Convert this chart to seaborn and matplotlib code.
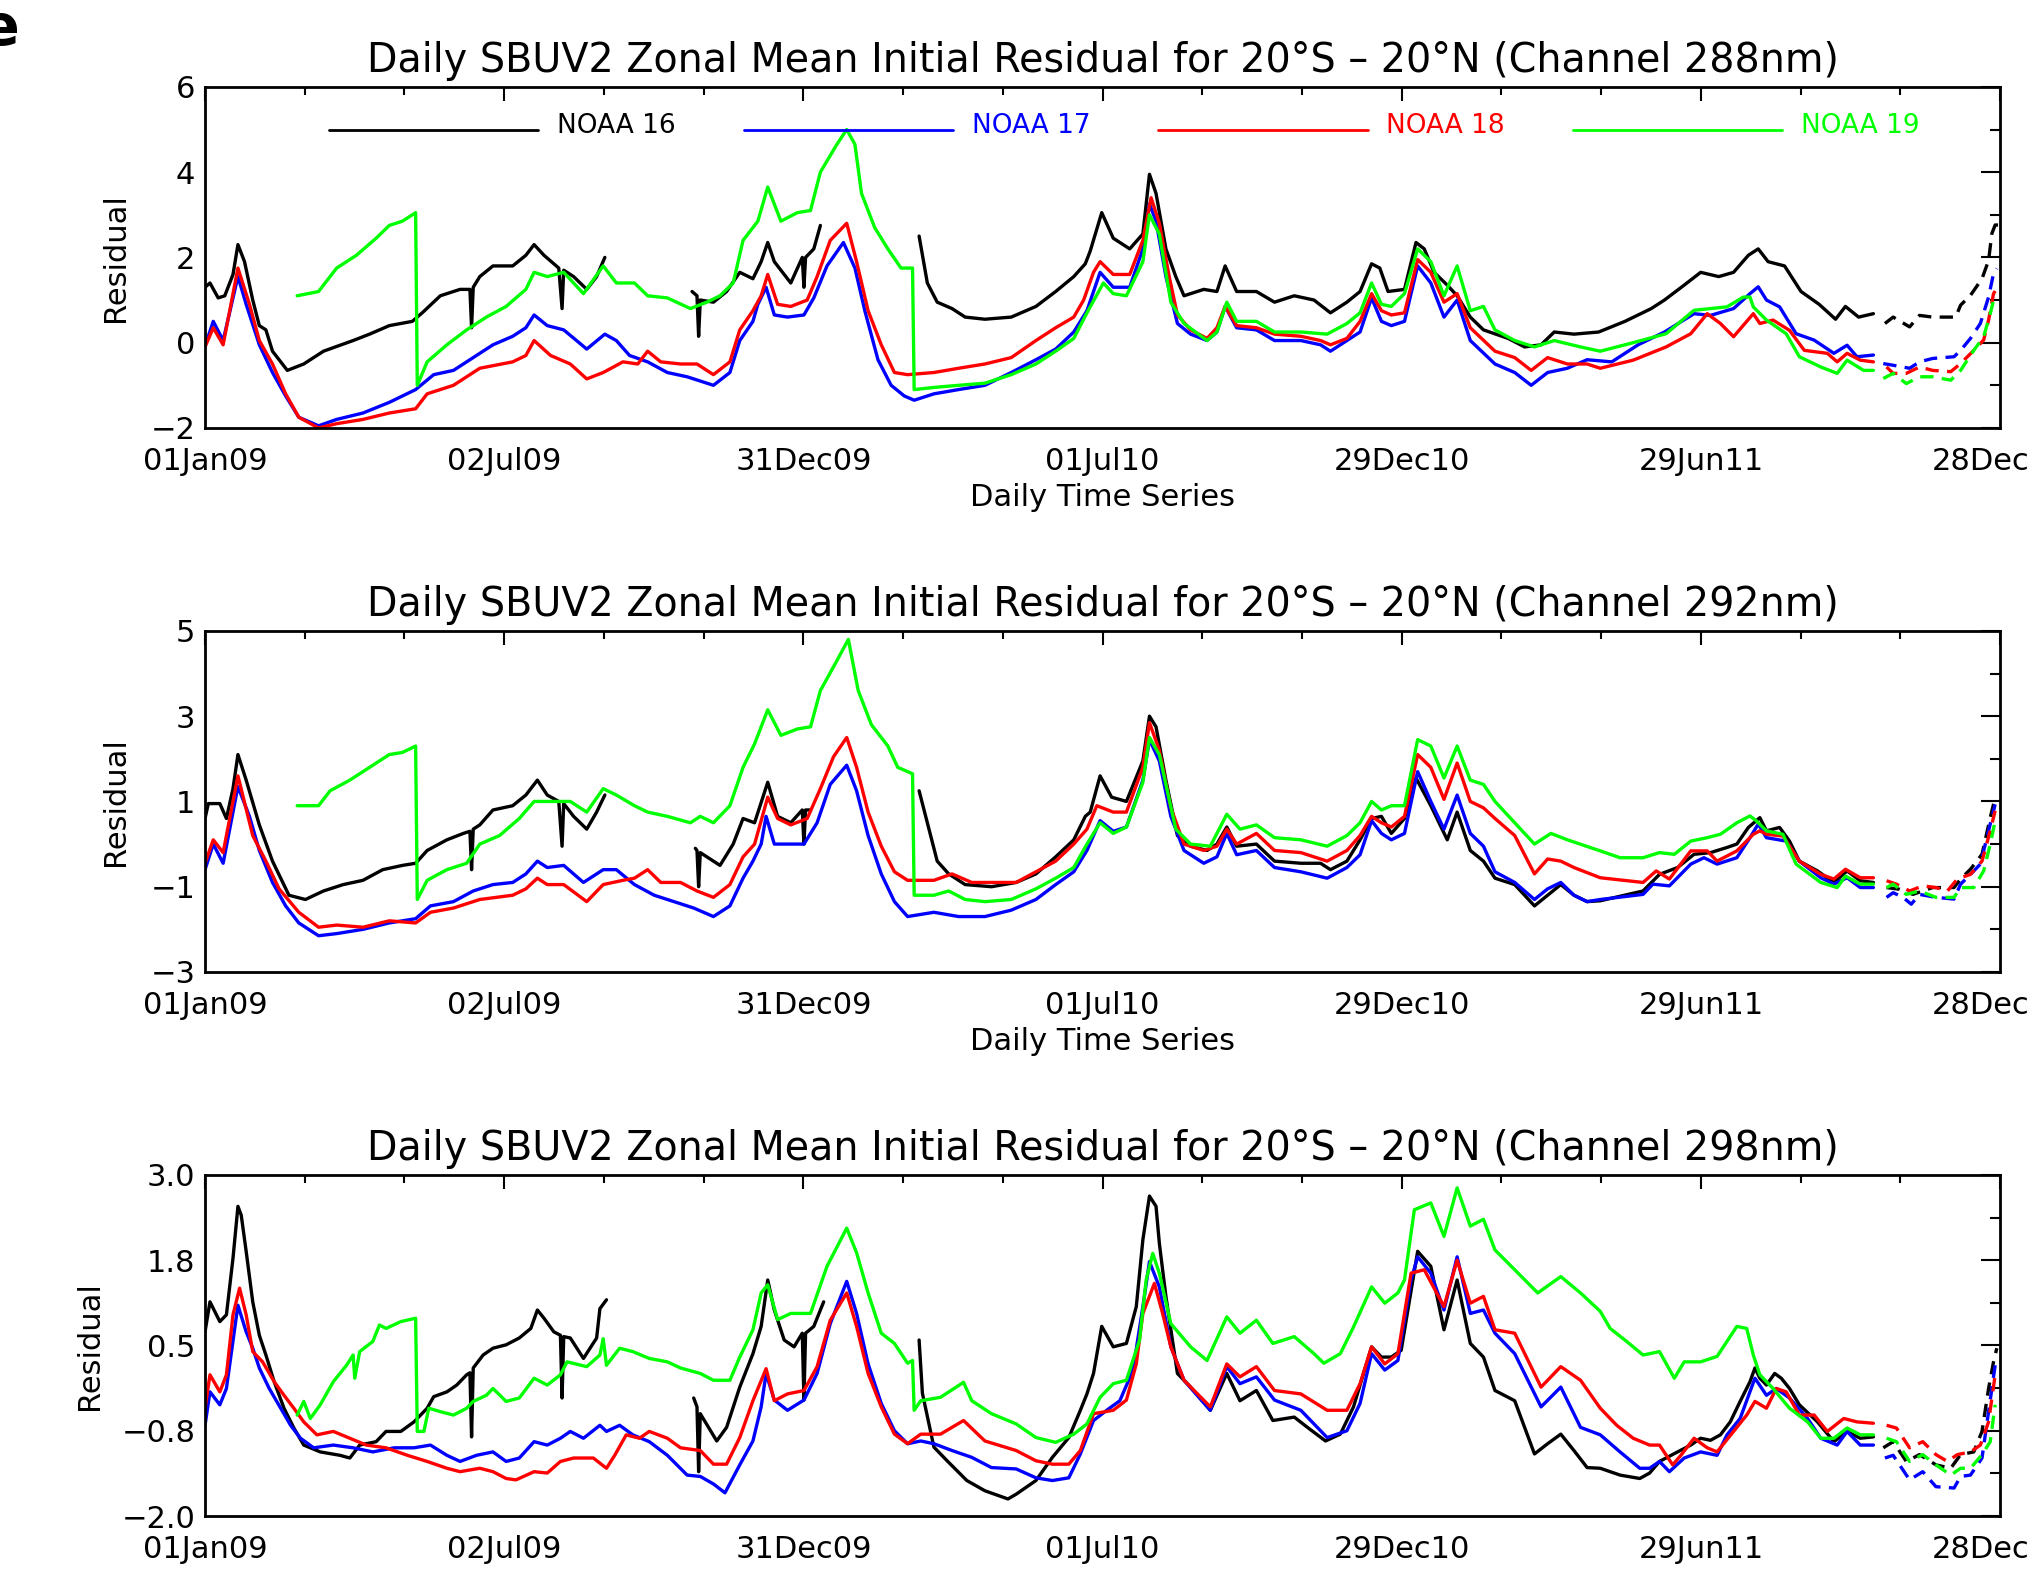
import numpy as np
import matplotlib
matplotlib.use('Agg')
import matplotlib.pyplot as plt
import seaborn as sns

nan = np.nan

# ---- axis / legend text ----
X_TICK_LABELS = ['01Jan09', '02Jul09', '31Dec09', '01Jul10', '29Dec10', '29Jun11', '28Dec11']
N_DAYS = 1091          # 01Jan09 .. 28Dec11
DASH_FROM = 1017       # last weeks of the record are drawn dashed
SATELLITES = ['NOAA 16', 'NOAA 17', 'NOAA 18', 'NOAA 19']
COLORS = ['#000000', '#0000ff', '#ff0000', '#00ff00']
CHANNELS = ['288nm', '292nm', '298nm']

# ---- data: (day since 01Jan09, residual), nan = gap ----
P288_NOAA16 = [(0, 1.3), (3, 1.4), (8, 1.05), (12, 1.1), (17, 1.6), (20, 2.3), (24, 1.9), (29, 1.0), (33, 0.4), (37, 0.3),
               (41, -0.2), (50, -0.65), (60, -0.5), (72, -0.2), (90, 0.05), (100, 0.2), (112, 0.4), (126, 0.5), (132, 0.7),
               (143, 1.1), (155, 1.25), (161, 1.25), (162, 0.35), (163, 1.3), (167, 1.55), (175, 1.8), (187, 1.8), (195, 2.05),
               (200, 2.3), (206, 2.05), (215, 1.75), (217, 0.8), (218, 1.7), (224, 1.55), (232, 1.25), (238, 1.55), (243, 2.0),
               (270, nan), (296, 1.2), (299, 1.1), (300, 0.15), (301, 1.0), (309, 0.95), (317, 1.2), (325, 1.65), (333, 1.5),
               (338, 1.9), (342, 2.35), (346, 1.9), (356, 1.4), (363, 2.0), (364, 1.3), (365, 2.0), (370, 2.2), (374, 2.75),
               (400, nan), (434, 2.5), (439, 1.4), (445, 0.95), (454, 0.8), (462, 0.6), (474, 0.55), (490, 0.6), (505, 0.85),
               (517, 1.2), (528, 1.55), (535, 1.85), (538, 2.15), (545, 3.05), (552, 2.45), (562, 2.2), (570, 2.55), (574, 3.95),
               (578, 3.5), (584, 2.2), (590, 1.55), (595, 1.1), (607, 1.25), (615, 1.2), (620, 1.8), (627, 1.2), (639, 1.2),
               (650, 0.95), (662, 1.1), (674, 1.0), (684, 0.7), (694, 0.95), (702, 1.2), (709, 1.85), (714, 1.75), (719, 1.2),
               (729, 1.25), (736, 2.35), (741, 2.2), (747, 1.65), (755, 1.35), (761, 1.1), (769, 0.6), (777, 0.3), (792, 0.1),
               (802, -0.1), (812, -0.05), (820, 0.25), (832, 0.2), (847, 0.25), (863, 0.5), (879, 0.8), (887, 1.0), (899, 1.35),
               (909, 1.65), (920, 1.55), (929, 1.65), (938, 2.05), (944, 2.2), (950, 1.9), (960, 1.8), (970, 1.2), (981, 0.9),
               (991, 0.55), (997, 0.85), (1005, 0.6), (1014, 0.68), (1017, nan), (1021, 0.45), (1026, 0.6), (1036, 0.37),
               (1042, 0.64), (1050, 0.6), (1064, 0.6), (1067, 0.88), (1073, 1.11), (1080, 1.5), (1084, 1.93), (1086, 2.56),
               (1088, 2.76), (1090, 2.76)]
P288_NOAA17 = [(0, -0.08), (5, 0.5), (11, 0.05), (20, 1.55), (25, 0.9), (33, -0.05), (41, -0.7), (49, -1.25), (57, -1.75),
               (69, -1.95), (80, -1.8), (96, -1.65), (112, -1.4), (128, -1.1), (139, -0.75), (151, -0.65), (163, -0.35),
               (175, -0.05), (187, 0.15), (195, 0.35), (200, 0.65), (208, 0.4), (218, 0.3), (232, -0.15), (243, 0.2), (250, 0.05),
               (258, -0.3), (269, -0.45), (281, -0.7), (293, -0.8), (301, -0.9), (309, -1.0), (319, -0.7), (325, 0.05), (333, 0.5),
               (336, 0.9), (341, 1.3), (346, 0.65), (354, 0.6), (364, 0.65), (370, 1.05), (378, 1.8), (388, 2.35), (395, 1.75),
               (401, 0.75), (409, -0.4), (417, -1.0), (425, -1.25), (431, -1.35), (443, -1.2), (458, -1.1), (474, -1.0),
               (490, -0.7), (505, -0.4), (517, -0.15), (528, 0.25), (536, 0.75), (544, 1.65), (552, 1.3), (562, 1.3), (570, 2.2),
               (574, 3.25), (578, 2.85), (584, 1.55), (591, 0.45), (599, 0.2), (609, 0.05), (615, 0.25), (620, 0.85), (627, 0.35),
               (639, 0.3), (650, 0.05), (666, 0.05), (678, -0.05), (684, -0.2), (694, 0.05), (702, 0.25), (709, 1.05), (715, 0.5),
               (721, 0.4), (729, 0.5), (737, 1.8), (745, 1.4), (753, 0.6), (761, 1.0), (769, 0.05), (784, -0.5), (796, -0.7),
               (806, -1.0), (816, -0.7), (828, -0.6), (840, -0.4), (855, -0.45), (871, -0.05), (887, 0.25), (905, 0.68),
               (915, 0.64), (929, 0.8), (939, 1.15), (944, 1.31), (949, 1.0), (957, 0.84), (967, 0.21), (978, 0.06), (990, -0.25),
               (998, -0.06), (1004, -0.33), (1014, -0.29), (1017, nan), (1020, -0.49), (1026, -0.53), (1036, -0.6), (1042, -0.45),
               (1050, -0.37), (1063, -0.33), (1067, -0.18), (1073, 0.1), (1079, 0.45), (1084, 1.07), (1087, 1.62), (1089, 1.74)]
P288_NOAA18 = [(0, -0.1), (5, 0.35), (11, -0.05), (20, 1.75), (27, 0.9), (33, 0.05), (41, -0.5), (49, -1.2), (57, -1.75),
               (69, -2.0), (80, -1.9), (96, -1.8), (112, -1.65), (128, -1.55), (135, -1.2), (151, -1.0), (167, -0.6), (187, -0.45),
               (195, -0.3), (200, 0.05), (210, -0.3), (222, -0.5), (232, -0.85), (242, -0.7), (254, -0.45), (263, -0.5), (269, -0.2),
               (277, -0.45), (289, -0.5), (299, -0.5), (309, -0.75), (319, -0.45), (325, 0.3), (333, 0.75), (338, 1.1), (342, 1.6),
               (348, 0.9), (356, 0.85), (366, 1.0), (372, 1.55), (380, 2.4), (390, 2.8), (396, 1.9), (403, 0.75), (411, -0.05),
               (419, -0.7), (427, -0.75), (443, -0.7), (458, -0.6), (474, -0.5), (490, -0.35), (505, 0.05), (517, 0.35),
               (528, 0.6), (534, 1.0), (540, 1.65), (544, 1.9), (552, 1.6), (562, 1.6), (570, 2.4), (575, 3.4), (580, 2.8),
               (586, 1.55), (591, 0.65), (599, 0.3), (609, 0.1), (615, 0.35), (620, 0.85), (627, 0.4), (639, 0.35), (650, 0.2),
               (666, 0.15), (678, 0.05), (684, -0.05), (694, 0.1), (702, 0.5), (709, 1.15), (715, 0.75), (721, 0.65), (729, 0.7),
               (737, 1.95), (745, 1.65), (753, 0.95), (761, 1.15), (769, 0.35), (784, -0.2), (796, -0.35), (806, -0.65),
               (816, -0.35), (828, -0.5), (840, -0.5), (848, -0.6), (868, -0.41), (888, -0.1), (903, 0.21), (913, 0.68),
               (921, 0.45), (929, 0.14), (941, 0.68), (945, 0.45), (953, 0.53), (963, 0.29), (972, -0.18), (986, -0.25),
               (992, -0.45), (998, -0.25), (1006, -0.41), (1014, -0.45), (1017, nan), (1022, -0.57), (1026, -0.72), (1034, -0.72),
               (1042, -0.57), (1050, -0.65), (1061, -0.68), (1067, -0.49), (1075, -0.18), (1081, 0.06), (1084, 0.53),
               (1087, 1.15), (1089, 1.27)]
P288_NOAA19 = [(56, 1.1), (69, 1.2), (80, 1.75), (92, 2.05), (104, 2.45), (112, 2.75), (120, 2.85), (128, 3.05), (129, -1.0),
               (135, -0.45), (147, -0.05), (159, 0.3), (171, 0.6), (183, 0.85), (195, 1.25), (200, 1.65), (208, 1.55), (218, 1.65),
               (230, 1.15), (242, 1.8), (250, 1.4), (261, 1.4), (269, 1.1), (281, 1.05), (295, 0.8), (305, 0.95), (313, 1.1),
               (321, 1.4), (327, 2.4), (336, 2.85), (342, 3.65), (350, 2.85), (360, 3.05), (368, 3.1), (374, 4.0), (384, 4.65),
               (390, 5.0), (395, 4.65), (399, 3.5), (407, 2.7), (415, 2.2), (423, 1.75), (430, 1.75), (431, -1.1), (443, -1.05),
               (458, -1.0), (474, -0.95), (490, -0.75), (505, -0.5), (517, -0.2), (528, 0.1), (536, 0.7), (546, 1.4), (552, 1.15),
               (560, 1.1), (570, 1.9), (574, 3.0), (580, 2.55), (587, 0.95), (595, 0.45), (609, 0.05), (615, 0.25), (621, 0.95),
               (627, 0.5), (639, 0.5), (650, 0.25), (666, 0.25), (682, 0.2), (694, 0.45), (702, 0.7), (709, 1.4), (715, 0.9),
               (721, 0.85), (729, 1.15), (737, 2.2), (745, 1.9), (753, 1.1), (761, 1.8), (769, 0.75), (777, 0.85), (784, 0.3),
               (796, 0.05), (808, -0.1), (820, 0.05), (836, -0.1), (848, -0.2), (868, 0.0), (888, 0.21), (905, 0.76), (915, 0.8),
               (925, 0.84), (935, 1.07), (939, 1.07), (941, 0.84), (949, 0.53), (961, 0.21), (969, -0.33), (982, -0.57),
               (992, -0.72), (998, -0.41), (1008, -0.65), (1014, -0.65), (1017, nan), (1020, -0.84), (1026, -0.72), (1034, -0.96),
               (1042, -0.8), (1050, -0.8), (1061, -0.88), (1067, -0.65), (1075, -0.18), (1081, 0.14), (1085, 0.68), (1088, 1.15)]

P292_NOAA16 = [(0, 0.6), (2, 0.95), (9, 0.95), (13, 0.6), (17, 1.3), (20, 2.1), (25, 1.5), (33, 0.45), (41, -0.4), (51, -1.2),
               (61, -1.3), (72, -1.1), (84, -0.95), (96, -0.85), (108, -0.6), (120, -0.5), (128, -0.45), (135, -0.15), (147, 0.1),
               (157, 0.25), (161, 0.3), (162, -0.6), (163, 0.35), (167, 0.45), (175, 0.8), (187, 0.9), (195, 1.15), (202, 1.5),
               (208, 1.15), (215, 1.0), (217, -0.05), (218, 0.95), (224, 0.65), (232, 0.35), (238, 0.75), (243, 1.15), (270, nan),
               (298, -0.1), (299, -0.15), (300, -1.0), (301, -0.2), (305, -0.3), (313, -0.5), (321, 0.0), (327, 0.6), (334, 0.5),
               (342, 1.45), (348, 0.65), (356, 0.5), (363, 0.8), (364, 0.0), (365, 0.8), (368, 0.8), (400, nan), (434, 1.25),
               (439, 0.5), (445, -0.4), (452, -0.7), (462, -0.95), (478, -1.0), (493, -0.9), (505, -0.7), (517, -0.3), (528, 0.1),
               (535, 0.65), (538, 0.75), (544, 1.6), (551, 1.1), (560, 1.0), (570, 1.95), (574, 3.0), (578, 2.75), (584, 1.5),
               (591, 0.2), (599, -0.05), (609, -0.15), (615, 0.0), (621, 0.4), (627, -0.05), (639, 0.0), (650, -0.4), (666, -0.45),
               (678, -0.45), (684, -0.6), (694, -0.4), (702, 0.1), (709, 0.6), (715, 0.65), (721, 0.25), (729, 0.6), (736, 1.55),
               (745, 0.9), (755, 0.1), (761, 0.75), (769, -0.15), (777, -0.4), (784, -0.8), (796, -0.95), (808, -1.45),
               (816, -1.2), (824, -0.95), (832, -1.2), (840, -1.35), (848, -1.33), (874, -1.1), (884, -0.71), (895, -0.55),
               (905, -0.24), (915, -0.2), (925, -0.08), (931, 0.0), (938, 0.39), (945, 0.62), (949, 0.31), (957, 0.39), (963, 0.07),
               (969, -0.4), (980, -0.63), (990, -0.9), (998, -0.63), (1006, -0.86), (1014, -0.9), (1017, nan), (1022, -1.02),
               (1030, -1.06), (1038, -1.18), (1050, -1.02), (1063, -1.02), (1067, -0.82), (1073, -0.59), (1080, -0.24),
               (1085, 0.62), (1088, 1.09)]
P292_NOAA17 = [(0, -0.6), (5, 0.0), (11, -0.45), (20, 1.35), (27, 0.65), (33, -0.15), (41, -0.9), (49, -1.45), (57, -1.85),
               (69, -2.15), (80, -2.1), (96, -2.0), (112, -1.85), (128, -1.75), (137, -1.45), (151, -1.35), (163, -1.1),
               (175, -0.95), (187, -0.9), (195, -0.7), (202, -0.4), (208, -0.55), (218, -0.5), (230, -0.9), (242, -0.6),
               (250, -0.6), (261, -0.95), (273, -1.2), (285, -1.35), (297, -1.5), (309, -1.7), (319, -1.45), (327, -0.8),
               (333, -0.4), (338, 0.0), (341, 0.65), (346, 0.0), (354, 0.0), (364, 0.0), (372, 0.5), (380, 1.4), (390, 1.85),
               (396, 1.25), (403, 0.2), (411, -0.7), (419, -1.35), (427, -1.7), (443, -1.6), (458, -1.7), (474, -1.7),
               (490, -1.55), (505, -1.3), (517, -0.95), (528, -0.65), (536, -0.15), (544, 0.55), (552, 0.3), (560, 0.4),
               (570, 1.5), (574, 2.45), (580, 1.95), (587, 0.65), (595, -0.15), (607, -0.45), (615, -0.3), (621, 0.25),
               (627, -0.25), (639, -0.15), (650, -0.55), (666, -0.65), (682, -0.8), (694, -0.55), (702, -0.25), (709, 0.55),
               (715, 0.25), (721, 0.1), (729, 0.25), (737, 1.7), (745, 1.0), (753, 0.35), (761, 1.15), (769, 0.25), (777, -0.05),
               (784, -0.65), (796, -0.9), (808, -1.3), (816, -1.05), (824, -0.9), (832, -1.2), (840, -1.35), (848, -1.3),
               (874, -1.18), (880, -0.94), (890, -0.98), (903, -0.47), (911, -0.32), (919, -0.47), (931, -0.32), (939, 0.15),
               (944, 0.47), (949, 0.15), (961, 0.07), (969, -0.4), (982, -0.79), (990, -0.94), (998, -0.79), (1006, -1.02),
               (1014, -1.02), (1017, nan), (1022, -1.25), (1026, -1.14), (1032, -1.25), (1037, -1.41), (1042, -1.18),
               (1052, -1.25), (1063, -1.29), (1067, -0.94), (1073, -0.71), (1079, -0.47), (1085, 0.47), (1088, 0.93)]
P292_NOAA18 = [(0, -0.45), (5, 0.1), (11, -0.2), (20, 1.6), (29, 0.2), (37, -0.4), (45, -1.05), (57, -1.6), (69, -1.95),
               (80, -1.9), (96, -1.95), (112, -1.8), (128, -1.85), (137, -1.6), (151, -1.5), (167, -1.3), (187, -1.2),
               (195, -1.05), (202, -0.8), (208, -0.95), (218, -0.95), (232, -1.35), (242, -0.95), (254, -0.85), (261, -0.8),
               (269, -0.6), (277, -0.9), (289, -0.9), (299, -1.1), (309, -1.25), (319, -0.95), (327, -0.3), (334, 0.0), (342, 1.1),
               (348, 0.6), (356, 0.45), (366, 0.6), (374, 1.3), (382, 2.05), (390, 2.5), (396, 1.8), (403, 0.75), (411, -0.05),
               (419, -0.65), (427, -0.85), (443, -0.85), (454, -0.7), (466, -0.9), (478, -0.9), (493, -0.9), (505, -0.65),
               (517, -0.4), (528, 0.0), (536, 0.35), (542, 0.9), (552, 0.75), (560, 0.75), (570, 1.8), (574, 2.85), (580, 2.2),
               (587, 0.85), (595, 0.0), (607, -0.15), (615, -0.05), (621, 0.35), (627, 0.0), (639, 0.25), (650, -0.15),
               (666, -0.2), (682, -0.4), (694, -0.15), (702, 0.2), (709, 0.65), (715, 0.5), (721, 0.4), (729, 0.65), (737, 2.1),
               (745, 1.8), (753, 1.05), (761, 1.9), (769, 1.0), (777, 0.85), (784, 0.6), (796, 0.2), (808, -0.7), (816, -0.35),
               (824, -0.4), (832, -0.55), (848, -0.79), (874, -0.9), (882, -0.63), (890, -0.82), (903, -0.16), (913, -0.16),
               (919, -0.4), (931, -0.16), (941, 0.23), (945, 0.31), (949, 0.23), (959, 0.19), (969, -0.4), (982, -0.71),
               (990, -0.82), (997, -0.59), (1006, -0.79), (1014, -0.79), (1017, nan), (1022, -0.86), (1028, -0.94), (1036, -1.1),
               (1044, -0.98), (1052, -1.02), (1059, -1.1), (1065, -0.82), (1073, -0.71), (1080, -0.4), (1085, 0.31), (1088, 0.78)]
P292_NOAA19 = [(56, 0.9), (69, 0.9), (76, 1.25), (88, 1.5), (100, 1.8), (112, 2.1), (120, 2.15), (128, 2.3), (129, -1.3),
               (135, -0.85), (147, -0.6), (159, -0.45), (167, 0.0), (179, 0.2), (191, 0.6), (200, 1.0), (211, 1.0), (222, 1.0),
               (232, 0.75), (242, 1.3), (250, 1.15), (261, 0.9), (269, 0.75), (281, 0.65), (295, 0.5), (301, 0.65), (309, 0.5),
               (319, 0.9), (327, 1.8), (334, 2.35), (342, 3.15), (350, 2.55), (360, 2.7), (368, 2.75), (374, 3.6), (384, 4.3),
               (391, 4.8), (397, 3.6), (405, 2.8), (415, 2.3), (421, 1.8), (430, 1.65), (431, -1.2), (443, -1.2), (452, -1.1),
               (462, -1.3), (474, -1.35), (490, -1.3), (505, -1.05), (517, -0.8), (528, -0.55), (536, 0.0), (544, 0.5),
               (552, 0.25), (560, 0.4), (570, 1.45), (574, 2.5), (580, 2.1), (590, 0.35), (599, 0.0), (611, -0.05), (621, 0.7),
               (629, 0.35), (639, 0.45), (650, 0.15), (666, 0.1), (682, -0.05), (694, 0.2), (702, 0.5), (709, 1.0), (715, 0.8),
               (721, 0.9), (729, 0.9), (737, 2.45), (745, 2.3), (753, 1.55), (761, 2.3), (769, 1.5), (777, 1.4), (784, 1.0),
               (796, 0.5), (808, 0.0), (818, 0.25), (828, 0.1), (848, -0.16), (860, -0.32), (874, -0.32), (884, -0.2),
               (893, -0.24), (903, 0.07), (913, 0.15), (921, 0.23), (931, 0.5), (939, 0.66), (943, 0.54), (949, 0.31), (959, 0.23),
               (967, -0.47), (982, -0.9), (992, -1.02), (997, -0.75), (1006, -0.94), (1014, -0.94), (1017, nan), (1022, -1.02),
               (1026, -0.94), (1034, -1.18), (1042, -1.1), (1052, -1.25), (1063, -1.25), (1067, -1.02), (1075, -1.02),
               (1081, -0.63), (1085, 0.0), (1088, 0.54)]

P298_NOAA16 = [(0, 0.7), (3, 1.14), (9, 0.85), (13, 0.95), (17, 1.78), (20, 2.54), (22, 2.41), (25, 1.88), (29, 1.14), (33, 0.65),
               (37, 0.36), (42, -0.03), (48, -0.42), (54, -0.71), (60, -0.96), (70, -1.06), (82, -1.11), (88, -1.15), (94, -0.96),
               (104, -0.91), (110, -0.76), (119, -0.76), (127, -0.62), (135, -0.42), (139, -0.25), (147, -0.18), (153, -0.08),
               (159, 0.07), (161, 0.1), (162, -0.84), (163, 0.17), (169, 0.36), (175, 0.46), (183, 0.51), (191, 0.61), (198, 0.75),
               (202, 1.02), (206, 0.9), (212, 0.7), (216, 0.65), (217, -0.27), (218, 0.63), (222, 0.61), (230, 0.31), (234, 0.46),
               (238, 0.61), (240, 1.04), (244, 1.17), (270, nan), (297, -0.27), (299, -0.4), (300, -1.35), (301, -0.5),
               (311, -0.9), (317, -0.7), (325, -0.11), (333, 0.38), (338, 0.78), (342, 1.46), (346, 1.02), (352, 0.58),
               (358, 0.48), (363, 0.68), (364, -0.3), (365, 0.68), (370, 0.78), (376, 1.14), (400, nan), (434, 0.58), (436, -0.2),
               (443, -0.99), (451, -1.19), (463, -1.48), (474, -1.63), (488, -1.75), (493, -1.68), (505, -1.48), (515, -1.14),
               (525, -0.85), (532, -0.45), (536, -0.21), (540, 0.09), (545, 0.78), (552, 0.48), (560, 0.53), (566, 1.07),
               (570, 2.05), (574, 2.69), (578, 2.54), (580, 2.0), (584, 1.22), (591, 0.09), (599, -0.11), (611, -0.45), (621, 0.09),
               (629, -0.31), (639, -0.16), (649, -0.6), (662, -0.55), (670, -0.7), (681, -0.9), (690, -0.8), (698, -0.4),
               (709, 0.48), (715, 0.33), (721, 0.33), (727, 0.43), (737, 1.88), (745, 1.66), (753, 0.73), (761, 1.46), (769, 0.53),
               (777, 0.33), (784, -0.16), (796, -0.31), (808, -1.09), (816, -0.94), (824, -0.8), (832, -1.04), (840, -1.29),
               (848, -1.3), (860, -1.4), (872, -1.45), (878, -1.37), (884, -1.2), (895, -1.06), (903, -0.96), (909, -0.86),
               (915, -0.89), (921, -0.81), (927, -0.62), (933, -0.32), (939, -0.03), (942, 0.17), (945, 0.02), (949, -0.08),
               (954, 0.09), (958, 0.02), (963, -0.13), (969, -0.37), (980, -0.62), (990, -0.91), (998, -0.76), (1006, -0.86),
               (1014, -0.84), (1017, nan), (1020, -1.0), (1026, -0.91), (1034, -1.2), (1042, -1.1), (1052, -1.25), (1061, -1.3),
               (1067, -1.1), (1075, -1.06), (1080, -0.76), (1084, -0.13), (1087, 0.26), (1089, 0.46)]
P298_NOAA17 = [(0, -0.67), (3, -0.18), (9, -0.37), (13, -0.13), (20, 1.09), (25, 0.7), (29, 0.46), (33, 0.17), (39, -0.13),
               (46, -0.42), (52, -0.67), (58, -0.86), (66, -1.0), (78, -0.96), (90, -1.0), (102, -1.06), (115, -1.0), (127, -1.0),
               (137, -0.96), (147, -1.11), (155, -1.2), (165, -1.11), (175, -1.06), (183, -1.2), (191, -1.15), (200, -0.91),
               (208, -0.96), (216, -0.86), (222, -0.76), (230, -0.86), (240, -0.67), (244, -0.76), (252, -0.67), (260, -0.81),
               (270, -0.91), (281, -1.11), (293, -1.4), (301, -1.42), (309, -1.53), (316, -1.66), (325, -1.25), (333, -0.9),
               (338, -0.4), (341, 0.09), (346, -0.3), (354, -0.45), (364, -0.3), (372, 0.09), (380, 0.82), (390, 1.44), (396, 0.97),
               (403, 0.23), (411, -0.35), (419, -0.75), (427, -0.94), (435, -0.9), (443, -0.94), (454, -1.04), (466, -1.14),
               (478, -1.29), (493, -1.31), (505, -1.44), (515, -1.48), (525, -1.44), (532, -1.09), (540, -0.6), (548, -0.45),
               (556, -0.31), (564, 0.14), (570, 1.07), (574, 1.73), (580, 1.36), (587, 0.48), (595, -0.01), (611, -0.45),
               (621, 0.19), (629, -0.06), (639, 0.04), (650, -0.3), (666, -0.45), (682, -0.85), (694, -0.75), (702, -0.35),
               (709, 0.38), (717, 0.14), (725, 0.28), (733, 1.46), (737, 1.8), (745, 1.56), (753, 1.02), (761, 1.8), (769, 0.97),
               (777, 1.02), (784, 0.68), (796, 0.38), (812, -0.4), (824, -0.11), (836, -0.7), (848, -0.81), (860, -1.06),
               (872, -1.3), (878, -1.3), (884, -1.2), (890, -1.35), (899, -1.15), (909, -1.06), (919, -1.11), (925, -0.81),
               (933, -0.57), (942, 0.02), (949, -0.23), (955, -0.13), (963, -0.27), (974, -0.57), (982, -0.86), (992, -0.96),
               (998, -0.76), (1006, -0.96), (1014, -0.96), (1017, nan), (1021, -1.15), (1026, -1.11), (1036, -1.47), (1044, -1.35),
               (1052, -1.57), (1063, -1.59), (1067, -1.42), (1073, -1.4), (1080, -1.15), (1086, -0.13), (1088, 0.21)]
P298_NOAA18 = [(0, -0.42), (3, 0.07), (9, -0.18), (13, 0.07), (17, 0.95), (21, 1.34), (25, 0.95), (29, 0.41), (35, 0.26),
               (42, -0.03), (48, -0.23), (54, -0.42), (60, -0.62), (68, -0.81), (78, -0.76), (88, -0.86), (98, -0.96), (110, -1.0),
               (123, -1.11), (135, -1.2), (147, -1.3), (155, -1.35), (167, -1.3), (175, -1.35), (183, -1.45), (189, -1.47),
               (200, -1.35), (208, -1.37), (216, -1.2), (224, -1.15), (236, -1.15), (244, -1.3), (249, -1.11), (256, -0.81),
               (264, -0.86), (270, -0.76), (281, -0.86), (289, -1.0), (301, -1.04), (309, -1.24), (317, -1.24), (325, -0.85),
               (333, -0.31), (341, 0.16), (346, -0.31), (354, -0.21), (364, -0.16), (372, 0.19), (380, 0.87), (390, 1.27),
               (396, 0.78), (403, 0.09), (411, -0.4), (419, -0.8), (427, -0.94), (435, -0.8), (447, -0.8), (461, -0.6),
               (474, -0.9), (493, -1.04), (505, -1.19), (515, -1.24), (525, -1.24), (532, -1.04), (540, -0.5), (552, -0.45),
               (560, -0.3), (566, 0.23), (570, 0.97), (577, 1.41), (582, 0.97), (587, 0.48), (595, -0.01), (611, -0.4),
               (621, 0.23), (629, 0.04), (639, 0.19), (650, -0.16), (666, -0.21), (682, -0.45), (694, -0.45), (702, -0.06),
               (709, 0.48), (717, 0.23), (725, 0.38), (733, 1.56), (741, 1.61), (753, 1.07), (761, 1.75), (769, 1.12), (777, 1.22),
               (784, 0.73), (796, 0.68), (812, -0.11), (824, 0.19), (836, -0.01), (848, -0.42), (858, -0.67), (868, -0.86),
               (878, -0.96), (884, -0.96), (892, -1.25), (897, -1.11), (905, -0.86), (913, -1.0), (919, -1.06), (929, -0.76),
               (937, -0.52), (942, -0.32), (949, -0.42), (955, -0.13), (961, -0.18), (969, -0.52), (978, -0.52), (986, -0.76),
               (996, -0.57), (1004, -0.62), (1014, -0.64), (1017, nan), (1022, -0.67), (1028, -0.71), (1036, -1.0), (1044, -0.91),
               (1052, -1.1), (1059, -1.2), (1065, -1.1), (1073, -1.06), (1079, -0.96), (1084, -0.62), (1088, 0.07)]
P298_NOAA19 = [(56, -0.52), (60, -0.32), (64, -0.57), (70, -0.37), (78, -0.03), (86, 0.21), (90, 0.36), (91, 0.02), (94, 0.41),
               (102, 0.56), (106, 0.8), (110, 0.75), (119, 0.85), (128, 0.9), (129, -0.76), (133, -0.76), (136, -0.42),
               (143, -0.47), (151, -0.52), (159, -0.42), (163, -0.32), (171, -0.23), (175, -0.13), (183, -0.32), (191, -0.27),
               (200, 0.02), (208, -0.08), (216, 0.07), (220, 0.26), (232, 0.19), (240, 0.36), (242, 0.6), (244, 0.21), (252, 0.46),
               (260, 0.41), (270, 0.31), (281, 0.26), (289, 0.17), (301, 0.09), (309, -0.01), (319, -0.01), (325, 0.33),
               (333, 0.73), (338, 1.27), (342, 1.39), (348, 0.88), (356, 0.97), (368, 0.97), (378, 1.66), (390, 2.22), (396, 1.86),
               (403, 1.27), (411, 0.68), (419, 0.53), (427, 0.24), (430, 0.28), (431, -0.45), (435, -0.31), (447, -0.26),
               (461, -0.04), (466, -0.31), (478, -0.5), (493, -0.65), (505, -0.85), (517, -0.92), (528, -0.8), (536, -0.65),
               (544, -0.26), (552, -0.06), (560, -0.01), (568, 0.58), (572, 1.46), (576, 1.85), (580, 1.56), (587, 0.82),
               (599, 0.48), (609, 0.28), (621, 0.92), (629, 0.68), (639, 0.87), (649, 0.53), (662, 0.63), (674, 0.38), (680, 0.24),
               (690, 0.38), (698, 0.77), (709, 1.36), (717, 1.12), (725, 1.27), (729, 1.46), (735, 2.49), (745, 2.59), (753, 2.1),
               (761, 2.81), (769, 2.25), (777, 2.35), (784, 1.9), (796, 1.61), (810, 1.27), (824, 1.51), (836, 1.27), (848, 1.0),
               (854, 0.75), (864, 0.56), (874, 0.36), (884, 0.41), (893, 0.02), (899, 0.26), (909, 0.26), (919, 0.34), (931, 0.78),
               (937, 0.75), (941, 0.36), (945, 0.07), (953, -0.13), (963, -0.42), (974, -0.62), (982, -0.86), (990, -0.86),
               (998, -0.71), (1006, -0.81), (1014, -0.81), (1017, nan), (1022, -0.86), (1028, -0.91), (1036, -1.2), (1044, -1.1),
               (1052, -1.25), (1061, -1.4), (1067, -1.3), (1073, -1.3), (1080, -1.1), (1085, -0.91), (1088, -0.37)]

PANEL_SERIES = [
    [P288_NOAA16, P288_NOAA17, P288_NOAA18, P288_NOAA19],
    [P292_NOAA16, P292_NOAA17, P292_NOAA18, P292_NOAA19],
    [P298_NOAA16, P298_NOAA17, P298_NOAA18, P298_NOAA19],
]
Y_LIMITS = [(-2, 6), (-3, 5), (-2.0, 3.0)]
Y_TICK_LABELS = [['\u22122', '0', '2', '4', '6'],
                 ['\u22123', '\u22121', '1', '3', '5'],
                 ['\u22122.0', '\u22120.8', '0.5', '1.8', '3.0']]

LW = 2.4


def draw_series(ax, pairs, color):
    days = np.array([p[0] for p in pairs], dtype=float)
    vals = np.array([p[1] for p in pairs], dtype=float)
    gap = np.isnan(vals)
    seg = np.cumsum(gap)
    for k in np.unique(seg[~gap]):
        m = (seg == k) & ~gap
        d, v = days[m], vals[m]
        sns.lineplot(x=d, y=v, ax=ax, color=color, linewidth=LW, estimator=None,
                     sort=False, legend=False)
        if d[0] >= DASH_FROM:
            ax.lines[-1].set_dashes((4, 2.5))


sns.set_theme(style='white')
plt.rcParams['font.family'] = ['DejaVu Sans']
plt.rcParams['axes.linewidth'] = 2.0
plt.rcParams['axes.edgecolor'] = 'black'
plt.rcParams['text.color'] = 'black'
plt.rcParams['axes.labelcolor'] = 'black'

fig = plt.figure(figsize=(20.32, 15.71), dpi=100)
fig.patch.set_facecolor('white')

left, width, height = 0.1009, 0.8834, 0.2171
bottoms = [0.7276, 0.3813, 0.0350]
ylabel_x = [-0.0418, -0.0418, -0.0563]

for i, series in enumerate(PANEL_SERIES):
    ax = fig.add_axes([left, bottoms[i], width, height])
    ax.set_facecolor('white')
    for pairs, color in zip(series, COLORS):
        draw_series(ax, pairs, color)

    lo, hi = Y_LIMITS[i]
    ax.set_xlim(0, N_DAYS)
    ax.set_ylim(lo, hi)
    ax.set_xticks(np.linspace(0, N_DAYS, 7))
    ax.set_xticks(np.linspace(0, N_DAYS, 19), minor=True)
    ax.set_xticklabels(X_TICK_LABELS)
    ax.set_yticks(np.linspace(lo, hi, 5))
    ax.set_yticks(np.linspace(lo, hi, 9), minor=True)
    ax.set_yticklabels(Y_TICK_LABELS[i])

    ax.tick_params(which='both', direction='in', top=True, right=True, width=1.5,
                   color='black', labelcolor='black')
    ax.tick_params(axis='x', which='major', length=10, pad=14, labelsize=22)
    ax.tick_params(axis='x', which='minor', length=6)
    ax.tick_params(axis='y', which='major', length=14, pad=7, labelsize=22)
    ax.tick_params(axis='y', which='minor', length=7)
    for s in ax.spines.values():
        s.set_visible(True)
        s.set_color('black')
        s.set_linewidth(2.0)

    ax.set_title('Daily SBUV2 Zonal Mean Initial Residual for 20\u00b0S \u2013 20\u00b0N (Channel %s)' % CHANNELS[i],
                 fontsize=28.5, pad=10.5, color='black')
    ax.set_ylabel('Residual', fontsize=22)
    ax.yaxis.set_label_coords(ylabel_x[i], 0.5)
    if i < 2:
        ax.set_xlabel('Daily Time Series', fontsize=22, labelpad=5)
    else:
        ax.set_xlabel('')

    if i == 0:
        # IDL style legend: long line segment followed by coloured label
        for j, (name, color) in enumerate(zip(SATELLITES, COLORS)):
            x0 = 0.0691 + j * 0.2310
            ax.plot([x0, x0 + 0.1165], [0.874, 0.874], transform=ax.transAxes,
                    color=color, linewidth=2.0)
            ax.text(x0 + 0.127, 0.865, name, transform=ax.transAxes, color=color,
                    fontsize=19, va='baseline', ha='left')

fig.text(19 / 2032, 1 - 45 / 1571, 'e', ha='right', va='baseline', fontsize=41,
         fontweight='bold', color='black')

fig.savefig('out.png', dpi=100, facecolor='white')
